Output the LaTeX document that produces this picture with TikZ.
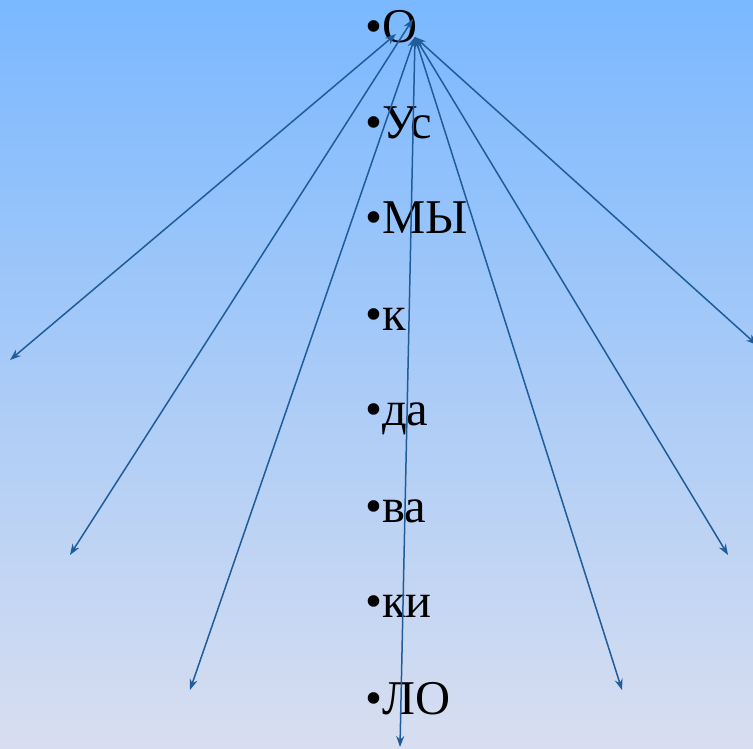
\documentclass[tikz,border=0pt]{standalone}
\usepackage{fontspec}
\setmainfont{Liberation Serif}
\usetikzlibrary{arrows.meta}
\definecolor{skytop}{HTML}{7AB8FF}
\definecolor{skybot}{HTML}{D8DEF0}
\definecolor{rayblue}{HTML}{1F5C99}

\begin{document}
\begin{tikzpicture}[x=1pt,y=-1pt,>={Stealth[length=11pt,width=8pt]},
    word/.style={anchor=base west,inner sep=0pt,font=\fontsize{48.5}{56}\selectfont},
    ray/.style={<->,draw=rayblue,line width=1.5pt}]
    \useasboundingbox (0,0) rectangle (753,748);
    \shade[top color=skytop,bottom color=skybot] (0,0) rectangle (753,748);
    \clip (0,0) rectangle (753,748);

    \node[word] (o)  at (365,42)  {•О};
    \node[word] (us) at (365,138) {•Ус};
    \node[word] (my) at (365,233) {•МЫ};
    \node[word] (k)  at (365,330) {•к};
    \node[word] (da) at (365,425) {•да};
    \node[word] (va) at (365,522) {•ва};
    \node[word] (ki) at (365,617) {•ки};
    \node[word] (lo) at (365,714) {•ЛО};

    % ends of the rays
    \coordinate (hub)  at (415,37);
    \coordinate (hubA) at (396,34);
    \coordinate (hubB) at (413,19);
    \coordinate (endA) at (10,360);
    \coordinate (endB) at (70,555);
    \coordinate (endC) at (190,690);
    \coordinate (endD) at (400,747);
    \coordinate (endE) at (622,690);
    \coordinate (endF) at (728,555);
    \coordinate (endG) at (757,345);

    \draw[ray] (hubA) -- (endA);
    \draw[ray] (hubB) -- (endB);
    \foreach \e in {endC,endD,endE,endF,endG}
        \draw[ray] (hub) -- (\e);
\end{tikzpicture}
\end{document}
